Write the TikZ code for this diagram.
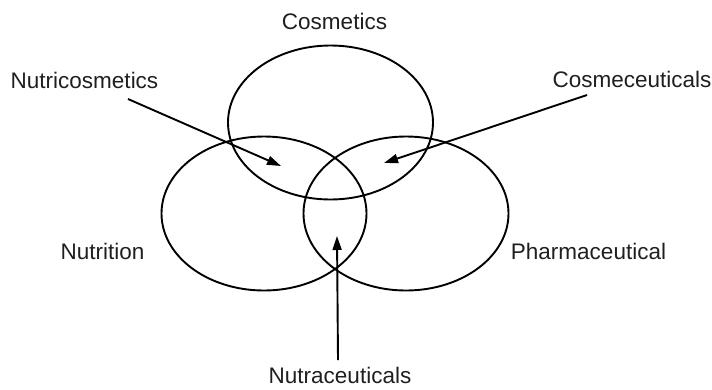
\documentclass[tikz,border=0pt]{standalone}
\usepackage{fontspec}
\setmainfont{Liberation Sans}
\usetikzlibrary{shapes.geometric,arrows.meta}
\begin{document}
\begin{tikzpicture}[x=1pt,y=-1pt,
  set/.style={draw=black,line width=1.9pt,ellipse,inner sep=0pt,
    minimum width=205pt,minimum height=154pt},
  lbl/.style={anchor=base,inner sep=0pt,font=\fontsize{22.5}{27}\selectfont,text=black!88},
  pointer/.style={line width=1.9pt,-{Triangle[length=14pt,width=9pt]}}]
  \useasboundingbox (0,0) rectangle (712,389);
  % the three overlapping sets
  \node[set] (cos) at (330.5,122.5) {};
  \node[set] (nut) at (264,213.5) {};
  \node[set] (pha) at (406,213.5) {};
  % set and overlap labels
  \node[lbl] (lcos) at (334.5,29) {Cosmetics};
  \node[lbl] (lnut) at (102.5,259) {Nutrition};
  \node[lbl] (lpha) at (588.5,259) {Pharmaceutical};
  \node[lbl] (lnc)  at (84.5,88) {Nutricosmetics};
  \node[lbl] (lcm)  at (632,87) {Cosmeceuticals};
  \node[lbl] (lnt)  at (340,383) {Nutraceuticals};
  % pointer ends
  \coordinate (ncTail) at (128,99);
  \coordinate (ncTip)  at (281,166);
  \coordinate (cmTail) at (587,95);
  \coordinate (cmTip)  at (384,163);
  \coordinate (ntTail) at (338,360);
  \coordinate (ntTip)  at (337,236);
  \draw[pointer] (ncTail) -- (ncTip);
  \draw[pointer] (cmTail) -- (cmTip);
  \draw[pointer] (ntTail) -- (ntTip);
\end{tikzpicture}
\end{document}
